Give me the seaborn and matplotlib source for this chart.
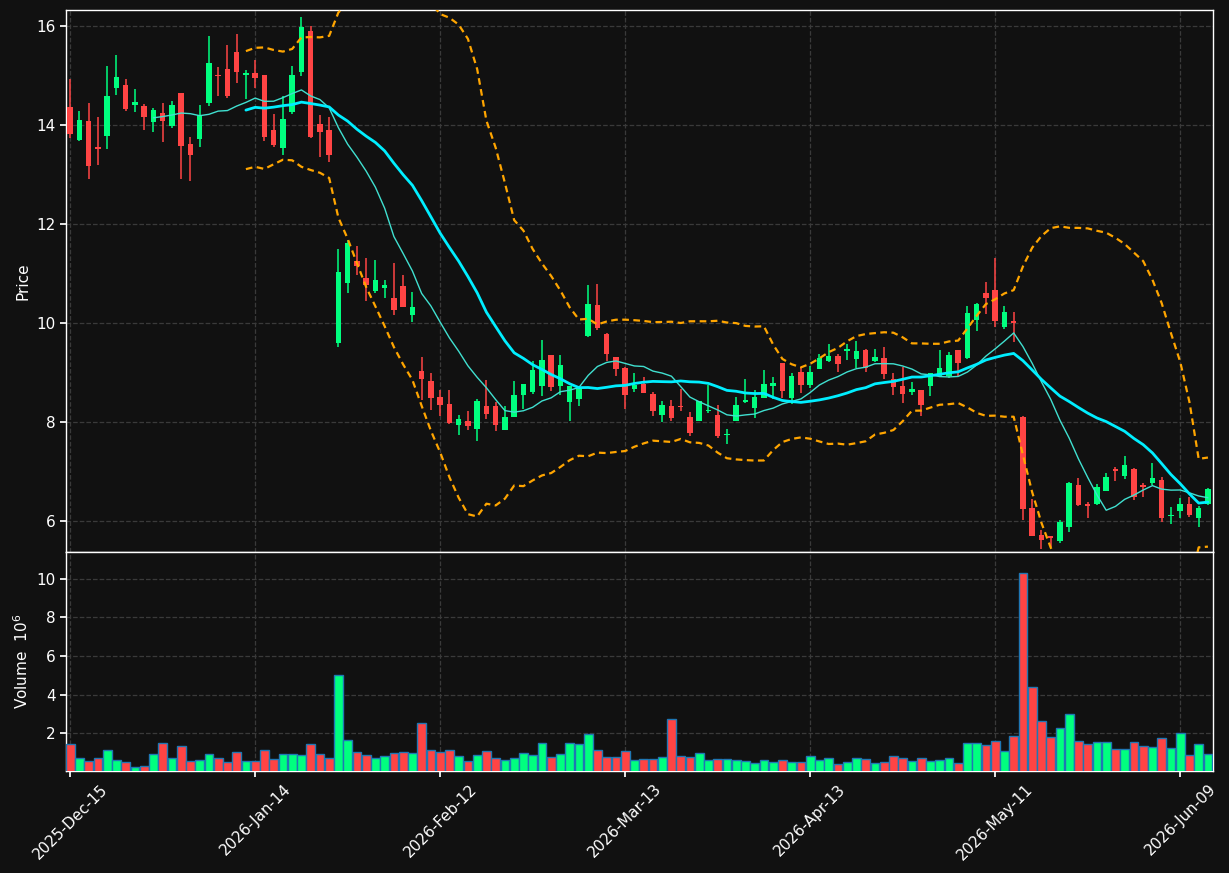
import numpy as np
import pandas as pd
import matplotlib
matplotlib.use("Agg")
import matplotlib.pyplot as plt
import seaborn as sns

# ── Data ──────────────────────────────────────────────
opens = [14.37, 13.70, 14.07, 13.53, 13.77, 14.74, 14.81, 14.40, 14.39, 14.05,
         14.23, 13.97, 14.65, 13.62, 13.71, 14.44, 15.01, 15.13, 15.48, 15.00,
         15.05, 15.01, 13.89, 13.53, 14.27, 15.07, 15.90, 14.01, 13.90, 9.60,
         10.81, 11.25, 10.91, 10.64, 10.71, 10.50, 10.74, 10.15, 9.03, 8.83,
         8.51, 8.37, 7.93, 8.02, 7.86, 8.31, 8.31, 7.84, 8.09, 8.55,
         8.61, 8.72, 9.35, 8.73, 8.41, 8.46, 9.74, 10.36, 9.78, 9.31,
         9.08, 8.66, 8.77, 8.57, 8.13, 8.31, 8.30, 8.10, 8.01, 8.21,
         8.14, 7.73, 8.02, 8.40, 8.27, 8.49, 8.72, 9.19, 8.49, 9.01,
         8.75, 9.06, 9.23, 9.33, 9.44, 9.26, 9.46, 9.23, 9.29, 8.87,
         8.73, 8.61, 8.64, 8.73, 8.93, 8.93, 9.46, 9.29, 10.06, 10.60,
         10.67, 9.91, 10.03, 8.09, 6.25, 5.72, 5.70, 5.60, 5.87, 6.73,
         6.32, 6.33, 6.61, 7.04, 6.91, 7.05, 6.73, 6.76, 6.82, 6.09,
         6.20, 6.33, 6.05, 6.33]
closes = [13.81, 14.10, 13.17, 13.52, 14.59, 14.97, 14.33, 14.47, 14.15, 14.31,
          14.07, 14.41, 13.57, 13.39, 14.19, 15.24, 14.98, 14.58, 15.06, 15.05,
          14.94, 13.75, 13.60, 14.11, 15.01, 15.98, 13.76, 13.85, 13.40, 11.02,
          11.61, 11.15, 10.76, 10.86, 10.76, 10.26, 10.33, 10.32, 8.86, 8.49,
          8.35, 7.98, 8.06, 7.91, 8.43, 8.15, 7.94, 8.10, 8.55, 8.77,
          9.05, 9.25, 8.70, 9.15, 8.73, 8.70, 10.38, 9.90, 9.37, 9.07,
          8.55, 8.74, 8.59, 8.22, 8.33, 8.07, 8.29, 7.77, 8.43, 8.24,
          7.72, 7.76, 8.34, 8.45, 8.51, 8.77, 8.78, 8.62, 8.93, 8.75,
          9.01, 9.28, 9.33, 9.16, 9.45, 9.43, 9.08, 9.31, 8.96, 8.71,
          8.57, 8.66, 8.35, 8.98, 9.09, 9.36, 9.18, 10.20, 10.38, 10.51,
          10.04, 10.22, 10.00, 6.23, 5.70, 5.62, 5.66, 5.97, 6.76, 6.32,
          6.30, 6.69, 6.89, 7.00, 7.13, 6.48, 6.68, 6.86, 6.05, 6.12,
          6.33, 6.11, 6.26, 6.64]
highs = [14.93, 14.28, 14.44, 14.15, 15.19, 15.41, 14.93, 14.72, 14.42, 14.35,
         14.44, 14.49, 14.65, 13.76, 14.41, 15.80, 15.17, 15.61, 15.83, 15.11,
         15.31, 15.01, 14.22, 14.59, 15.19, 16.18, 16.00, 14.20, 14.15, 11.50,
         11.67, 11.56, 11.32, 11.27, 10.86, 11.20, 10.96, 10.62, 9.31, 8.98,
         8.65, 8.65, 8.14, 8.21, 8.46, 8.85, 8.41, 8.31, 8.82, 8.77,
         9.23, 9.66, 9.35, 9.35, 8.73, 8.70, 10.76, 10.78, 9.80, 9.31,
         9.10, 8.98, 8.91, 8.61, 8.43, 8.44, 8.67, 8.20, 8.43, 8.74,
         8.33, 7.86, 8.50, 8.86, 8.64, 9.04, 8.91, 9.19, 8.98, 9.11,
         9.13, 9.38, 9.57, 9.38, 9.58, 9.63, 9.48, 9.48, 9.51, 8.99,
         9.11, 8.81, 8.64, 8.98, 9.46, 9.42, 9.46, 10.35, 10.40, 10.82,
         11.32, 10.34, 10.22, 8.11, 6.44, 5.82, 5.70, 6.02, 6.78, 6.86,
         6.39, 6.74, 6.96, 7.08, 7.31, 7.07, 6.76, 7.17, 6.88, 6.27,
         6.46, 6.49, 6.29, 6.66]
lows = [13.73, 13.67, 12.91, 13.19, 13.52, 14.60, 14.29, 14.25, 13.89, 13.85,
        13.65, 13.94, 12.91, 12.87, 13.55, 14.39, 14.58, 14.54, 14.85, 14.52,
        14.74, 13.68, 13.55, 13.40, 14.22, 14.98, 13.73, 13.35, 13.25, 9.51,
        10.60, 10.97, 10.45, 10.61, 10.51, 10.15, 10.31, 10.01, 8.45, 8.23,
        8.11, 7.96, 7.73, 7.83, 7.61, 8.06, 7.81, 7.84, 8.09, 8.25,
        8.56, 8.53, 8.62, 8.55, 8.01, 8.31, 9.72, 9.86, 9.22, 8.92,
        8.25, 8.61, 8.59, 8.12, 7.99, 8.02, 8.22, 7.71, 8.01, 8.18,
        7.67, 7.55, 8.02, 8.39, 8.07, 8.49, 8.47, 8.49, 8.37, 8.59,
        8.69, 9.06, 9.21, 9.01, 9.24, 9.08, 9.01, 9.21, 8.86, 8.55,
        8.39, 8.55, 8.12, 8.52, 8.93, 8.89, 8.93, 9.26, 9.83, 10.17,
        9.91, 9.88, 9.61, 6.01, 5.70, 5.43, 5.47, 5.56, 5.77, 6.29,
        6.06, 6.31, 6.60, 6.80, 6.84, 6.42, 6.49, 6.73, 5.97, 5.94,
        6.05, 6.07, 5.87, 6.31]
volumes = [1.43, 0.70, 0.55, 0.70, 1.12, 0.60, 0.49, 0.23, 0.29, 0.91,
           1.48, 0.70, 1.32, 0.55, 0.60, 0.91, 0.70, 0.49, 1.01, 0.55,
           0.55, 1.12, 0.65, 0.91, 0.91, 0.86, 1.43, 0.91, 0.70, 5.01,
           1.64, 1.01, 0.86, 0.70, 0.81, 0.96, 1.01, 0.96, 2.52, 1.12,
           1.01, 1.12, 0.81, 0.55, 0.86, 1.06, 0.70, 0.60, 0.70, 0.96,
           0.86, 1.48, 0.75, 0.91, 1.48, 1.43, 1.97, 1.12, 0.75, 0.75,
           1.06, 0.60, 0.65, 0.65, 0.75, 2.73, 0.81, 0.75, 0.96, 0.60,
           0.65, 0.65, 0.60, 0.55, 0.44, 0.60, 0.49, 0.60, 0.49, 0.49,
           0.81, 0.60, 0.70, 0.39, 0.49, 0.70, 0.65, 0.44, 0.49, 0.81,
           0.70, 0.55, 0.70, 0.55, 0.60, 0.70, 0.44, 1.48, 1.48, 1.38,
           1.58, 1.06, 1.84, 10.31, 4.39, 2.62, 1.79, 2.26, 2.99, 1.58,
           1.43, 1.53, 1.53, 1.17, 1.17, 1.53, 1.32, 1.27, 1.74, 1.22,
           2.00, 0.86, 1.43, 0.91]
tick_labels = ["2025-Dec-15", "2026-Jan-14", "2026-Feb-12", "2026-Mar-13",
               "2026-Apr-13", "2026-May-11", "2026-Jun-09"]

# ── Derived series ────────────────────────────────────
df = pd.DataFrame({"open": opens, "high": highs, "low": lows,
                   "close": closes, "volume": volumes})
df["idx"] = np.arange(len(df))
df["ma_fast"] = df["close"].rolling(10).mean()
df["ma_slow"] = df["close"].rolling(20).mean()
std = df["close"].rolling(20).std()
df["bb_up"] = df["ma_slow"] + 2 * std
df["bb_lo"] = df["ma_slow"] - 2 * std
up = df["close"] >= df["open"]

BG = "#111111"
GREEN, RED = "#00ff7f", "#ff4444"
colors = np.where(up, GREEN, RED)

sns.set_theme(style="dark")
plt.rcParams.update({"axes.facecolor": BG, "figure.facecolor": BG,
                     "text.color": "white", "axes.labelcolor": "white",
                     "xtick.color": "white", "ytick.color": "white",
                     "axes.edgecolor": "white"})
plt.rcParams["font.family"] = ["DejaVu Sans"]

fig = plt.figure(figsize=(12.29, 8.73), dpi=100)
ax = fig.add_axes([0.0537, 0.3677, 0.9333, 0.6208])
axv = fig.add_axes([0.0537, 0.1168, 0.9333, 0.2509], sharex=ax)

for a in (ax, axv):
    a.set_facecolor(BG)
    a.grid(True, color="#3a3a3a", linestyle="--", linewidth=0.9)
    a.set_axisbelow(True)
    for s in a.spines.values():
        s.set_color("white")
        s.set_linewidth(1.0)
    a.tick_params(colors="white", labelsize=11, length=4, left=True, bottom=True)

# ── Candles ───────────────────────────────────────────
ax.vlines(df["idx"], df["low"], df["high"], colors=colors, linewidth=1.1, zorder=3)
body_lo = np.minimum(df["open"], df["close"])
body_h = np.maximum(np.abs(df["close"] - df["open"]), 0.03)
ax.bar(df["idx"], body_h, bottom=body_lo, width=0.6, color=colors,
       edgecolor=colors, linewidth=0, zorder=4)

# ── Overlays ──────────────────────────────────────────
sns.lineplot(data=df, x="idx", y="ma_fast", ax=ax, color="#40e0d0", linewidth=1.0, zorder=5)
sns.lineplot(data=df, x="idx", y="ma_slow", ax=ax, color="#00eeff", linewidth=2.0, zorder=5)
for col in ("bb_up", "bb_lo"):
    sns.lineplot(data=df, x="idx", y=col, ax=ax, color="#ffa500",
                 linewidth=1.6, linestyle=(0, (3, 2)), zorder=5)

ax.set_ylim(5.37, 16.32)
ax.set_yticks([6, 8, 10, 12, 14, 16])
ax.set_ylabel("Price", fontsize=11)
ax.set_xlabel("")
plt.setp(ax.get_xticklabels(), visible=False)

# ── Volume ────────────────────────────────────────────
axv.bar(df["idx"], df["volume"], width=0.95, color=colors,
        edgecolor="#1f77b4", linewidth=1.0, zorder=3)
axv.set_ylim(0.03, 11.4)
axv.set_yticks([2, 4, 6, 8, 10])
axv.set_ylabel("Volume  $10^6$", fontsize=11)

ticks = np.arange(0, len(df), 20)
axv.set_xticks(ticks)
axv.set_xticklabels(tick_labels, rotation=45, ha="center")
axv.set_xlim(-0.45, len(df) - 0.45)
axv.set_xlabel("")

fig.savefig("out.png", dpi=100, facecolor=BG)
